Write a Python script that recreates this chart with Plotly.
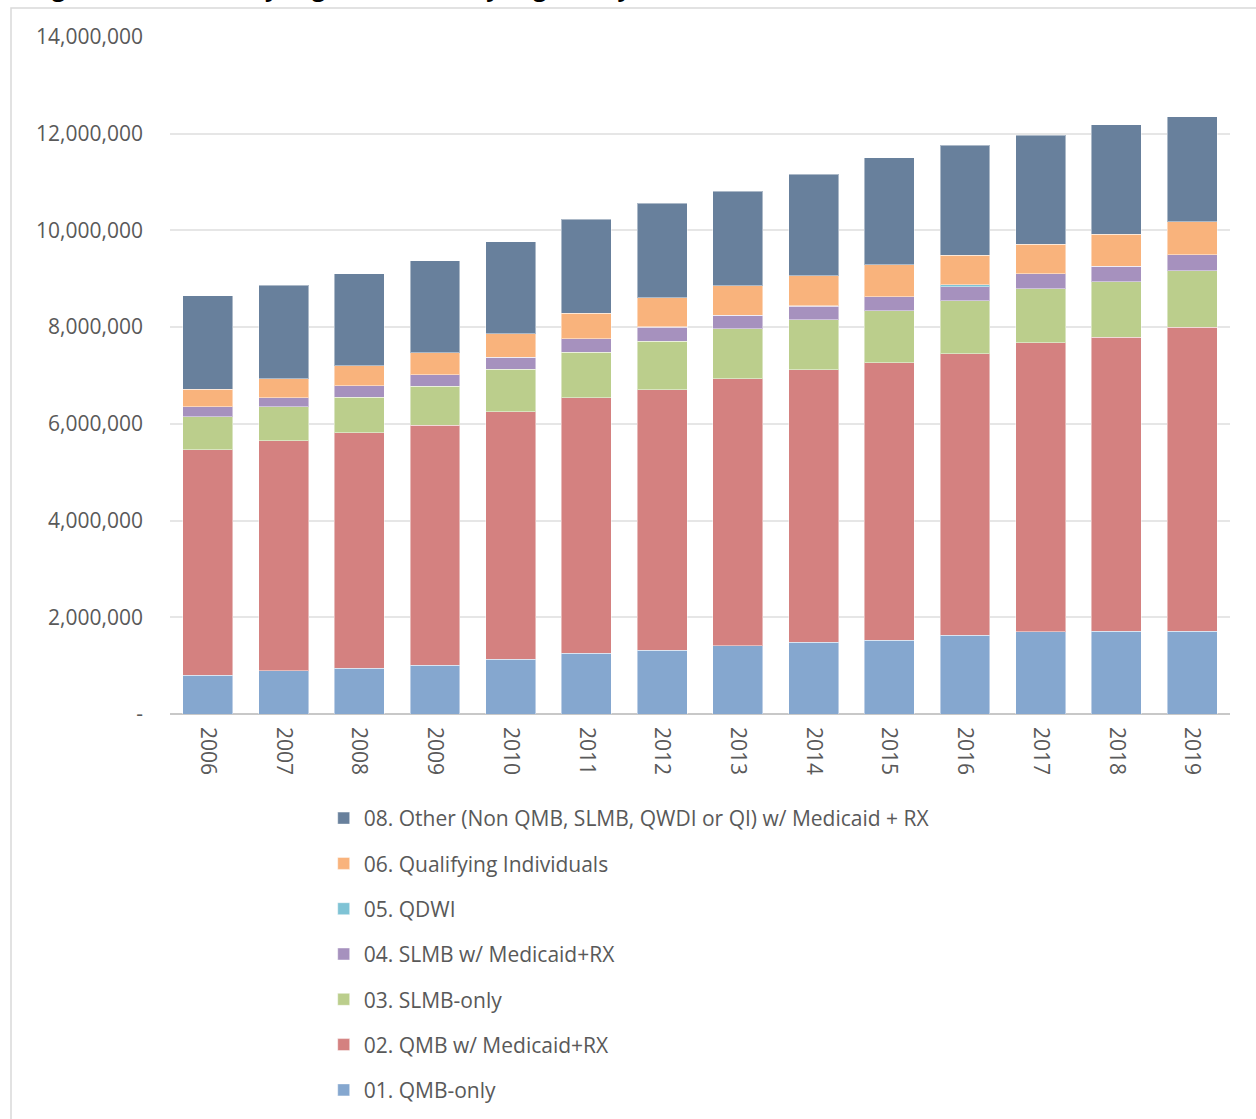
import plotly.graph_objects as go

# Dual eligible counts by status, 2006-2019
years = ["2006", "2007", "2008", "2009", "2010", "2011", "2012",
         "2013", "2014", "2015", "2016", "2017", "2018", "2019"]

qmb_only = [800000, 895000, 945000, 1007000, 1131000, 1261000, 1317000,
            1412000, 1483000, 1524000, 1627000, 1696000, 1710000, 1716000]
qmb_medicaid = [4666000, 4757000, 4872000, 4969000, 5120000, 5274000, 5389000,
                5516000, 5631000, 5741000, 5824000, 5982000, 6086000, 6287000]
slmb_only = [676000, 697000, 732000, 801000, 877000, 945000, 1007000,
             1034000, 1034000, 1069000, 1090000, 1111000, 1138000, 1164000]
slmb_medicaid = [207000, 192000, 240000, 240000, 248000, 275000, 290000,
                 283000, 289000, 296000, 295000, 316000, 324000, 331000]
qdwi = [1000, 1000, 1000, 1000, 1000, 1000, 1000,
        1000, 1000, 1000, 40000, 1000, 1000, 1000]
qualifying = [366000, 393000, 407000, 454000, 482000, 531000, 606000,
              606000, 621000, 655000, 614000, 608000, 662000, 676000]
other = [1935000, 1931000, 1903000, 1897000, 1903000, 1944000, 1952000,
         1958000, 2103000, 2213000, 2268000, 2254000, 2260000, 2172000]

series = [
    ("01. QMB-only", qmb_only, "#85A7CF"),
    ("02. QMB w/ Medicaid+RX", qmb_medicaid, "#D48180"),
    ("03. SLMB-only", slmb_only, "#BBCE8C"),
    ("04. SLMB w/ Medicaid+RX", slmb_medicaid, "#A691BE"),
    ("05. QDWI", qdwi, "#7FC3D5"),
    ("06. Qualifying Individuals", qualifying, "#F9B37C"),
    ("08. Other (Non QMB, SLMB, QWDI or QI) w/ Medicaid + RX", other, "#68809C"),
]

ytick_vals = [0, 2000000, 4000000, 6000000, 8000000, 10000000, 12000000, 14000000]
ytick_text = ["-", "2,000,000", "4,000,000", "6,000,000", "8,000,000",
              "10,000,000", "12,000,000", "14,000,000"]

fig = go.Figure()
for i, (name, vals, col) in enumerate(series):
    # bottom segment listed last in the legend
    fig.add_trace(go.Bar(x=years, y=vals, name=name, legendgroup=name, legendrank=100 - i,
                         marker=dict(color=col, line=dict(color="rgba(255,255,255,0.45)", width=1))))

fig.update_layout(
    barmode="stack",
    bargap=0.34,
    width=1256, height=1119,
    margin=dict(l=170, r=26, t=37, b=405, autoexpand=False),
    plot_bgcolor="white", paper_bgcolor="white",
    font=dict(family="Open Sans", size=21, color="#595959"),
    legend=dict(traceorder="grouped", orientation="v",
                x=0.145, xanchor="left", y=-0.124, yanchor="top",
                tracegroupgap=15, font=dict(size=21, color="#595959")),
)
fig.update_xaxes(tickangle=90, showline=False, ticks="", showgrid=False,
                 ticklabelstandoff=12, tickfont=dict(size=21))
fig.update_yaxes(range=[0, 14000000], tickvals=ytick_vals, ticktext=ytick_text,
                 gridcolor="#E6E6E6", gridwidth=2, zeroline=True,
                 zerolinecolor="#C8C8C8", zerolinewidth=2, ticks="", ticklabelstandoff=26)

# outer chart frame (cut by the page edges)
fig.add_shape(type="rect", xref="paper", yref="paper",
              x0=-0.15, x1=1.03, y0=-0.62, y1=1.0428,
              line=dict(color="#D9D9D9", width=1.5), layer="below")

# title, mostly cut off at the top of the page
fig.add_annotation(text="Figure 3: Total Dually Eligible and Dually Eligible, by Dual Status (2006-2019)",
                   xref="paper", yref="paper", x=-0.132, y=1.047, xanchor="left", yanchor="bottom",
                   showarrow=False, font=dict(family="Open Sans", size=23.5, color="black", weight="bold"))

fig.write_html("out.html", config={"displayModeBar": False},
               post_script="document.body.style.margin='0';")
